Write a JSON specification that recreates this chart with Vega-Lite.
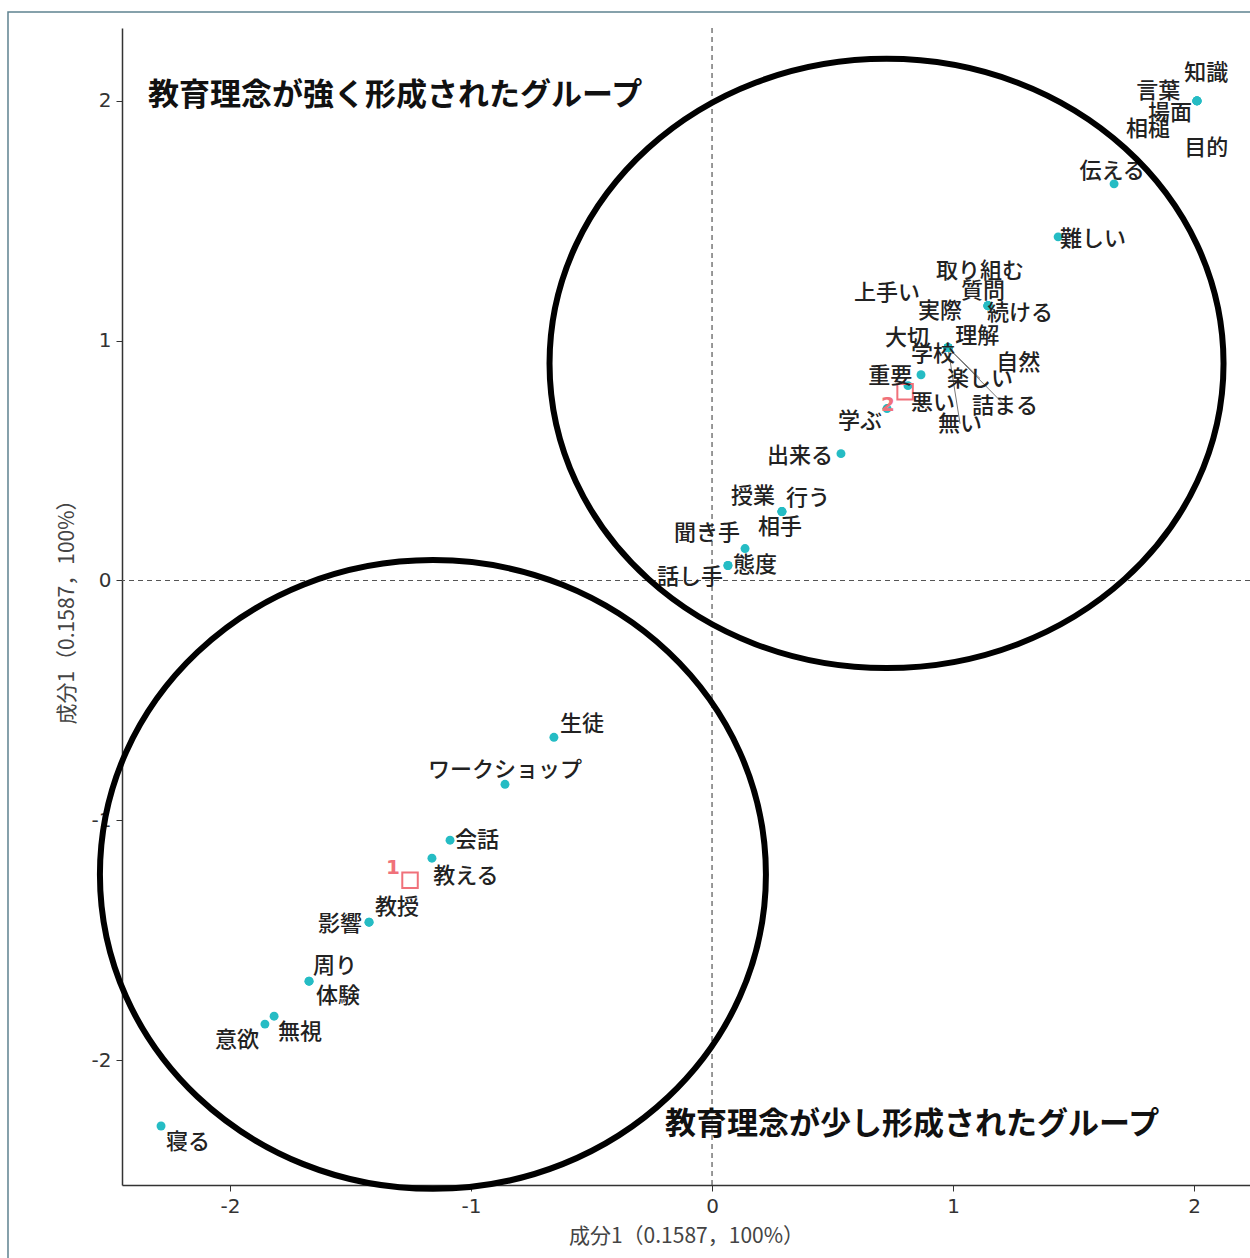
{
  "$schema": "https://vega.github.io/schema/vega-lite/v6.json",
  "width": 1128,
  "height": 1157,
  "autosize": {"type": "none"},
  "padding": {"left": 122, "top": 28, "right": 0, "bottom": 73},
  "background": "white",
  "config": {"view": {"stroke": null}},
  "datasets": {
    "words": [
      {"word": "知識", "x": 2.012, "y": 2.0, "lx": 2.05, "ly": 2.117, "seg": 0},
      {"word": "言葉", "x": 2.012, "y": 2.0, "lx": 1.851, "ly": 2.042, "seg": 0},
      {"word": "場面", "x": 2.012, "y": 2.0, "lx": 1.9, "ly": 1.95, "seg": 0},
      {"word": "相槌", "x": 2.012, "y": 2.0, "lx": 1.809, "ly": 1.883, "seg": 0},
      {"word": "目的", "x": 2.012, "y": 2.0, "lx": 2.05, "ly": 1.804, "seg": 0},
      {"word": "伝える", "x": 1.668, "y": 1.654, "lx": 1.66, "ly": 1.708, "seg": 0},
      {"word": "難しい", "x": 1.436, "y": 1.433, "lx": 1.581, "ly": 1.425, "seg": 0},
      {"word": "取り組む", "x": 1.145, "y": 1.146, "lx": 1.112, "ly": 1.292, "seg": 0},
      {"word": "上手い", "x": 1.145, "y": 1.146, "lx": 0.726, "ly": 1.2, "seg": 0},
      {"word": "質問", "x": 1.145, "y": 1.146, "lx": 1.124, "ly": 1.208, "seg": 0},
      {"word": "実際", "x": 1.145, "y": 1.146, "lx": 0.946, "ly": 1.125, "seg": 0},
      {"word": "続ける", "x": 1.145, "y": 1.146, "lx": 1.278, "ly": 1.117, "seg": 0},
      {"word": "大切", "x": 0.979, "y": 0.971, "lx": 0.809, "ly": 1.0125, "seg": 0},
      {"word": "理解", "x": 0.979, "y": 0.971, "lx": 1.1, "ly": 1.021, "seg": 0},
      {"word": "学校", "x": 0.979, "y": 0.971, "lx": 0.917, "ly": 0.946, "seg": 0},
      {"word": "自然", "x": 0.979, "y": 0.971, "lx": 1.27, "ly": 0.908, "seg": 0},
      {"word": "楽しい", "x": 0.979, "y": 0.971, "lx": 1.112, "ly": 0.842, "seg": 1},
      {"word": "詰まる", "x": 0.979, "y": 0.971, "lx": 1.216, "ly": 0.729, "seg": 1},
      {"word": "無い", "x": 0.979, "y": 0.971, "lx": 1.029, "ly": 0.654, "seg": 1},
      {"word": "重要", "x": 0.867, "y": 0.858, "lx": 0.739, "ly": 0.854, "seg": 0},
      {"word": "悪い", "x": 0.813, "y": 0.8125, "lx": 0.917, "ly": 0.742, "seg": 0},
      {"word": "学ぶ", "x": 0.726, "y": 0.717, "lx": 0.614, "ly": 0.667, "seg": 0},
      {"word": "出来る", "x": 0.535, "y": 0.529, "lx": 0.365, "ly": 0.521, "seg": 0},
      {"word": "授業", "x": 0.29, "y": 0.2875, "lx": 0.17, "ly": 0.354, "seg": 0},
      {"word": "行う", "x": 0.29, "y": 0.2875, "lx": 0.398, "ly": 0.346, "seg": 0},
      {"word": "相手", "x": 0.29, "y": 0.2875, "lx": 0.282, "ly": 0.221, "seg": 0},
      {"word": "聞き手", "x": 0.137, "y": 0.133, "lx": -0.021, "ly": 0.196, "seg": 0},
      {"word": "態度", "x": 0.066, "y": 0.0625, "lx": 0.178, "ly": 0.0625, "seg": 0},
      {"word": "話し手", "x": 0.066, "y": 0.0625, "lx": -0.091, "ly": 0.0125, "seg": 0},
      {"word": "生徒", "x": -0.656, "y": -0.654, "lx": -0.539, "ly": -0.6, "seg": 0},
      {"word": "ワークショップ", "x": -0.859, "y": -0.85, "lx": -0.859, "ly": -0.792, "seg": 0},
      {"word": "会話", "x": -1.087, "y": -1.083, "lx": -0.975, "ly": -1.083, "seg": 0},
      {"word": "教える", "x": -1.162, "y": -1.158, "lx": -1.021, "ly": -1.233, "seg": 0},
      {"word": "教授", "x": -1.423, "y": -1.425, "lx": -1.307, "ly": -1.3625, "seg": 0},
      {"word": "影響", "x": -1.423, "y": -1.425, "lx": -1.544, "ly": -1.433, "seg": 0},
      {"word": "周り", "x": -1.672, "y": -1.671, "lx": -1.564, "ly": -1.608, "seg": 0},
      {"word": "体験", "x": -1.672, "y": -1.671, "lx": -1.552, "ly": -1.733, "seg": 0},
      {"word": "無視", "x": -1.817, "y": -1.817, "lx": -1.71, "ly": -1.883, "seg": 0},
      {"word": "意欲", "x": -1.855, "y": -1.85, "lx": -1.971, "ly": -1.917, "seg": 0},
      {"word": "寝る", "x": -2.286, "y": -2.275, "lx": -2.174, "ly": -2.342, "seg": 0}
    ],
    "clusters": [
      {"cluster": "1", "x": -1.253, "y": -1.25, "lx": -1.324, "ly": -1.2},
      {"cluster": "2", "x": 0.801, "y": 0.7875, "lx": 0.73, "ly": 0.733}
    ],
    "notes": [
      {"note": "教育理念が強く形成されたグループ", "x": -2.34, "y": 2.02},
      {"note": "教育理念が少し形成されたグループ", "x": -0.195, "y": -2.27}
    ]
  },
  "layer": [
    {
      "data": {"values": [{"x0": -2.921, "x1": 2.6, "y0": -2.9, "y1": 2.371}]},
      "mark": {"type": "rect", "fill": null, "stroke": "#5f8290", "strokeWidth": 1.5, "clip": false},
      "encoding": {
        "x": {"field": "x0", "type": "quantitative", "scale": {"domain": [-2.448, 2.232], "nice": false, "zero": false}},
        "x2": {"field": "x1"},
        "y": {"field": "y0", "type": "quantitative", "scale": {"domain": [-2.521, 2.304], "nice": false, "zero": false}},
        "y2": {"field": "y1"}
      }
    },
    {
      "data": {"values": [{"x": 0}]},
      "mark": {"type": "rule", "strokeDash": [5, 4], "color": "#555", "strokeWidth": 1.2},
      "encoding": {"x": {"field": "x", "type": "quantitative"}}
    },
    {
      "data": {"values": [{"y": 0}]},
      "mark": {"type": "rule", "strokeDash": [5, 4], "color": "#555", "strokeWidth": 1.2},
      "encoding": {"y": {"field": "y", "type": "quantitative"}}
    },
    {
      "data": {"name": "words"},
      "transform": [{"filter": "datum.seg == 1"}],
      "mark": {"type": "rule", "color": "#777", "strokeWidth": 1},
      "encoding": {
        "x": {"field": "x", "type": "quantitative"},
        "y": {"field": "y", "type": "quantitative"},
        "x2": {"field": "lx"},
        "y2": {"field": "ly"}
      }
    },
    {
      "data": {"name": "words"},
      "mark": {"type": "point", "filled": true, "size": 80, "color": "#25BCC4", "opacity": 1},
      "encoding": {
        "x": {"field": "x", "type": "quantitative"},
        "y": {"field": "y", "type": "quantitative"}
      }
    },
    {
      "data": {"name": "clusters"},
      "mark": {"type": "square", "filled": false, "size": 240, "color": "#F0717A", "strokeWidth": 2, "opacity": 1},
      "encoding": {
        "x": {"field": "x", "type": "quantitative"},
        "y": {"field": "y", "type": "quantitative"}
      }
    },
    {
      "data": {"name": "clusters"},
      "mark": {"type": "text", "fontSize": 20, "fontWeight": "bold", "color": "#F0717A", "font": "DejaVu Sans"},
      "encoding": {
        "x": {"field": "lx", "type": "quantitative"},
        "y": {"field": "ly", "type": "quantitative"},
        "text": {"field": "cluster"}
      }
    },
    {
      "data": {"name": "words"},
      "mark": {"type": "text", "fontSize": 22, "fontWeight": 500, "color": "#222", "font": "Noto Sans CJK JP", "baseline": "middle", "align": "center"},
      "encoding": {
        "x": {"field": "lx", "type": "quantitative"},
        "y": {"field": "ly", "type": "quantitative"},
        "text": {"field": "word"}
      }
    },
    {
      "data": {"values": [{"x": 0.724, "y": 0.905}]},
      "mark": {"type": "point", "shape": "M-1,0A1,0.904,0,1,0,1,0A1,0.904,0,1,0,-1,0Z", "size": 454276, "filled": false, "stroke": "black", "strokeWidth": 6, "opacity": 1},
      "encoding": {
        "x": {"field": "x", "type": "quantitative"},
        "y": {"field": "y", "type": "quantitative"}
      }
    },
    {
      "data": {"values": [{"x": -1.158, "y": -1.226}]},
      "mark": {"type": "point", "shape": "M-1,0A1,0.944,0,1,0,1,0A1,0.944,0,1,0,-1,0Z", "size": 443556, "filled": false, "stroke": "black", "strokeWidth": 6, "opacity": 1},
      "encoding": {
        "x": {"field": "x", "type": "quantitative"},
        "y": {"field": "y", "type": "quantitative"}
      }
    },
    {
      "data": {"name": "notes"},
      "mark": {"type": "text", "fontSize": 31, "fontWeight": "bold", "color": "#111", "font": "Noto Sans CJK JP", "align": "left", "baseline": "middle"},
      "encoding": {
        "x": {"field": "x", "type": "quantitative",
          "axis": {"title": "成分1（0.1587，100%）", "values": [-2, -1, 0, 1, 2], "labelExpr": "datum.value", "grid": false, "domainColor": "#333", "domainWidth": 1.5, "tickColor": "#333", "tickSize": 6, "labelFontSize": 20, "labelColor": "#333", "labelFont": "DejaVu Sans", "labelPadding": 5, "titleFont": "Noto Sans CJK JP", "titleFontSize": 21, "titleFontWeight": "normal", "titleColor": "#444", "titlePadding": 9}},
        "y": {"field": "y", "type": "quantitative",
          "axis": {"title": "成分1（0.1587，100%）", "values": [-2, -1, 0, 1, 2], "labelExpr": "datum.value", "grid": false, "domainColor": "#333", "domainWidth": 1.5, "tickColor": "#333", "tickSize": 6, "labelFontSize": 20, "labelColor": "#333", "labelFont": "DejaVu Sans", "labelPadding": 5, "titleFont": "Noto Sans CJK JP", "titleFontSize": 21, "titleFontWeight": "normal", "titleColor": "#444", "titlePadding": 14}},
        "text": {"field": "note"}
      }
    }
  ]
}
